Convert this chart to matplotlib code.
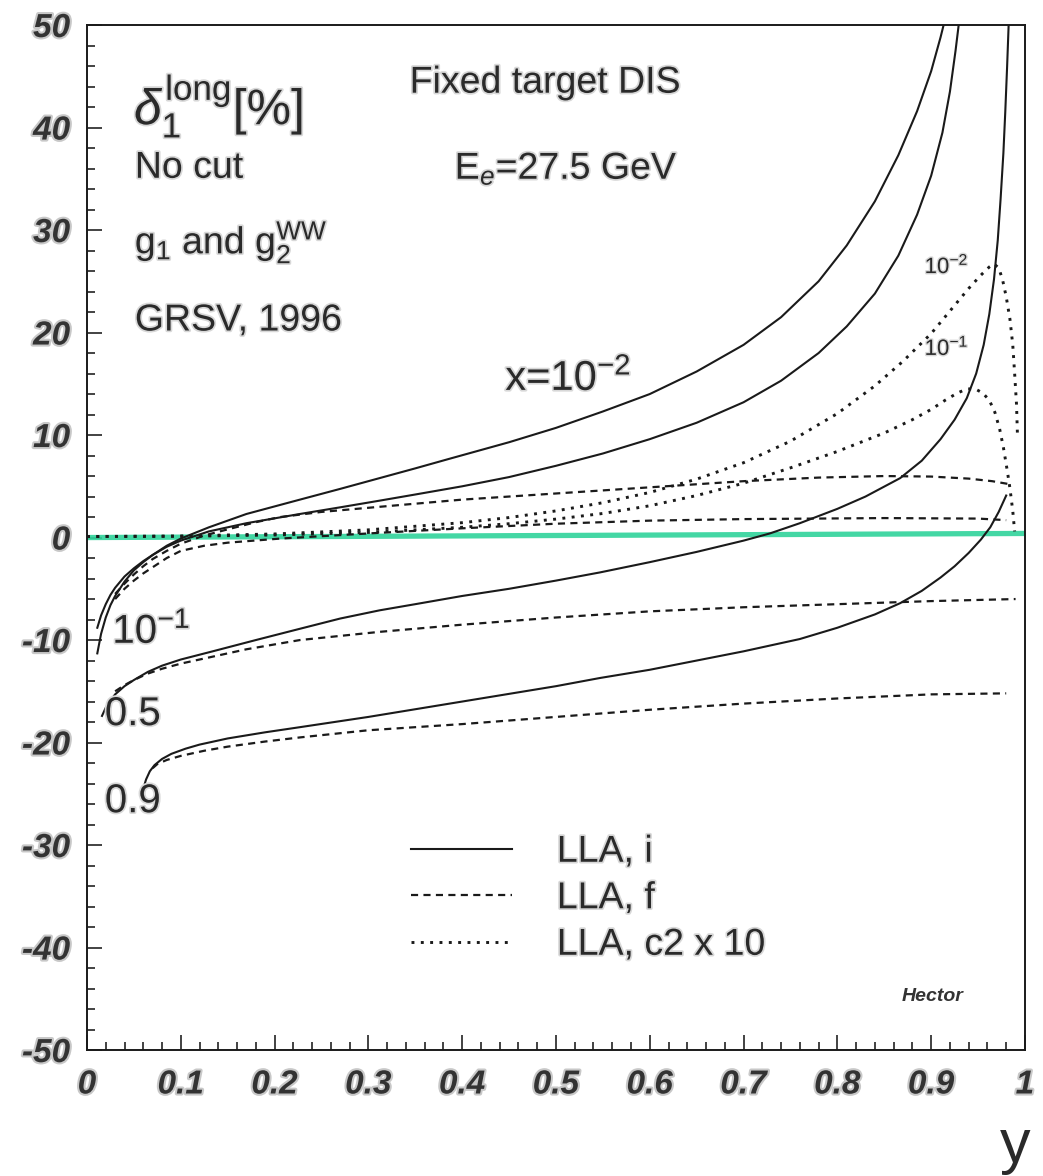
import matplotlib.pyplot as plt
import matplotlib.patheffects as pe
from matplotlib.ticker import MultipleLocator

# LLA, i  (solid) for x = 1e-2, 1e-1, 0.5, 0.9
i_m2_x = [0.011, 0.015, 0.02, 0.025, 0.03, 0.04, 0.05, 0.06, 0.07, 0.085, 0.1, 0.13, 0.17, 0.227, 0.27,
          0.312, 0.35, 0.387, 0.45, 0.5, 0.55, 0.6, 0.65, 0.7, 0.74, 0.78, 0.81, 0.84, 0.865, 0.885,
          0.9, 0.91, 0.916]
i_m2_y = [-11.3, -9.4, -7.8, -6.6, -5.7, -4.3, -3.2, -2.4, -1.7, -0.8, -0.1, 1.0, 2.3, 3.7, 4.75,
          5.8, 6.75, 7.7, 9.3, 10.7, 12.3, 14.0, 16.2, 18.8, 21.5, 25.0, 28.5, 32.8, 37.3, 41.6,
          45.5, 48.8, 51.0]
i_m1_x = [0.011, 0.015, 0.02, 0.025, 0.03, 0.04, 0.05, 0.06, 0.07, 0.085, 0.1, 0.13, 0.17, 0.227, 0.27,
          0.312, 0.35, 0.4, 0.45, 0.5, 0.55, 0.6, 0.65, 0.7, 0.74, 0.78, 0.81, 0.84, 0.865, 0.885,
          0.9, 0.912, 0.92, 0.926, 0.93]
i_m1_y = [-8.8, -7.6, -6.5, -5.6, -4.9, -3.8, -3.0, -2.3, -1.7, -0.9, -0.3, 0.6, 1.4, 2.3, 2.95,
          3.6, 4.2, 5.0, 5.9, 7.0, 8.2, 9.6, 11.2, 13.2, 15.3, 18.0, 20.6, 23.8, 27.5, 31.5,
          35.3, 39.5, 43.5, 47.5, 50.5]
i_05_x = [0.016, 0.02, 0.025, 0.03, 0.04, 0.05, 0.065, 0.08, 0.1, 0.134, 0.18, 0.227, 0.27, 0.312,
          0.35, 0.4, 0.45, 0.5, 0.547, 0.6, 0.65, 0.7, 0.728, 0.76, 0.8, 0.83, 0.867, 0.89, 0.91,
          0.925, 0.938, 0.948, 0.956, 0.962, 0.967, 0.971, 0.974, 0.977, 0.979, 0.981, 0.983]
i_05_y = [-17.4, -16.6, -15.9, -15.3, -14.5, -13.9, -13.1, -12.5, -11.9, -11.1, -10.0, -8.9, -7.9, -7.1,
          -6.5, -5.7, -5.0, -4.2, -3.4, -2.4, -1.4, -0.3, 0.4, 1.4, 2.8, 4.0, 5.8, 7.5, 9.6,
          11.5, 13.6, 16.0, 18.8, 21.8, 25.2, 29.0, 33.0, 37.5, 41.5, 46.0, 51.0]
i_09_x = [0.06, 0.063, 0.067, 0.072, 0.08, 0.09, 0.105, 0.12, 0.15, 0.19, 0.227, 0.3, 0.4, 0.5,
          0.547, 0.6, 0.65, 0.7, 0.76, 0.8, 0.84, 0.867, 0.89, 0.91, 0.925, 0.94, 0.953, 0.963,
          0.972, 0.98]
i_09_y = [-24.5, -23.6, -22.8, -22.2, -21.6, -21.1, -20.6, -20.2, -19.6, -19.0, -18.5, -17.5, -16.0, -14.5,
          -13.7, -12.9, -12.0, -11.1, -9.9, -8.8, -7.5, -6.4, -5.2, -3.9, -2.8, -1.5, -0.2, 1.0,
          2.5, 4.1]

# LLA, f  (dashed)
f_m2_x = [0.03, 0.04, 0.05, 0.06, 0.07, 0.085, 0.1, 0.125, 0.15, 0.18, 0.206, 0.25, 0.312, 0.4,
          0.5, 0.6, 0.7, 0.78, 0.85, 0.9, 0.94, 0.965, 0.984]
f_m2_y = [-5.5, -4.5, -3.6, -2.8, -2.1, -1.3, -0.6, 0.2, 0.8, 1.5, 2.0, 2.5, 3.0, 3.7,
          4.3, 4.9, 5.5, 5.85, 6.0, 5.95, 5.75, 5.5, 5.2]
f_m1_x = [0.03, 0.04, 0.05, 0.06, 0.07, 0.085, 0.1, 0.125, 0.15, 0.206, 0.3, 0.4, 0.5, 0.6,
          0.7, 0.85, 0.95, 0.98]
f_m1_y = [-6.0, -5.0, -4.2, -3.5, -2.9, -2.0, -1.3, -0.8, -0.5, -0.1, 0.4, 0.9, 1.35, 1.65,
          1.8, 1.9, 1.85, 1.7]
f_05_x = [0.03, 0.04, 0.05, 0.064, 0.08, 0.1, 0.13, 0.17, 0.227, 0.312, 0.4, 0.5, 0.6, 0.7,
          0.8, 0.9, 0.99]
f_05_y = [-15.0, -14.4, -13.9, -13.3, -12.8, -12.3, -11.7, -10.9, -10.0, -9.2, -8.5, -7.8, -7.2, -6.8,
          -6.5, -6.2, -6.0]
f_09_x = [0.07, 0.075, 0.085, 0.1, 0.125, 0.15, 0.19, 0.227, 0.3, 0.4, 0.5, 0.6, 0.7, 0.8,
          0.9, 0.98]
f_09_y = [-22.5, -22.1, -21.7, -21.3, -20.8, -20.4, -19.9, -19.5, -18.8, -18.2, -17.5, -16.8, -16.2, -15.7,
          -15.3, -15.2]

# LLA, c2 x 10  (dotted)
c_m2_x = [0.0, 0.1, 0.2, 0.3, 0.4, 0.45, 0.5, 0.55, 0.6, 0.65, 0.7, 0.75, 0.8, 0.84, 0.87,
          0.9, 0.92, 0.94, 0.953, 0.962, 0.967, 0.972, 0.976, 0.98, 0.984, 0.987, 0.989, 0.991, 0.992]
c_m2_y = [0.1, 0.15, 0.35, 0.75, 1.45, 1.95, 2.6, 3.4, 4.4, 5.7, 7.3, 9.4, 12.1, 14.8, 17.2,
          19.9, 22.1, 24.3, 25.6, 26.4, 26.7, 26.3, 25.2, 23.5, 21.3, 18.8, 16.0, 13.0, 10.0]
c_m1_x = [0.0, 0.1, 0.2, 0.3, 0.4, 0.45, 0.5, 0.55, 0.6, 0.65, 0.7, 0.75, 0.8, 0.85, 0.88,
          0.9, 0.915, 0.928, 0.938, 0.947, 0.955, 0.962, 0.968, 0.973, 0.977, 0.981, 0.984, 0.987, 0.989]
c_m1_y = [0.1, 0.12, 0.25, 0.5, 1.0, 1.35, 1.8, 2.35, 3.1, 4.1, 5.3, 6.8, 8.4, 10.2, 11.5,
          12.5, 13.4, 14.1, 14.5, 14.5, 14.1, 13.4, 12.2, 10.6, 8.8, 6.6, 4.8, 2.6, 0.6]

# hand-drawn green marker along zero
green_x = [0.0, 1.0]
green_y = [0.0, 0.4]

xtick_vals = [0, 0.1, 0.2, 0.3, 0.4, 0.5, 0.6, 0.7, 0.8, 0.9, 1]
xtick_labels = ['0', '0.1', '0.2', '0.3', '0.4', '0.5', '0.6', '0.7', '0.8', '0.9', '1']
ytick_vals = [-50, -40, -30, -20, -10, 0, 10, 20, 30, 40, 50]

solid = [(i_m2_x, i_m2_y), (i_m1_x, i_m1_y), (i_05_x, i_05_y), (i_09_x, i_09_y)]
dashed = [(f_m2_x, f_m2_y), (f_m1_x, f_m1_y), (f_05_x, f_05_y), (f_09_x, f_09_y)]
dotted = [(c_m2_x, c_m2_y), (c_m1_x, c_m1_y)]

plt.rcParams['font.family'] = ['Liberation Sans', 'DejaVu Sans']
plt.rcParams['mathtext.fontset'] = 'custom'
plt.rcParams['mathtext.rm'] = 'Liberation Sans'
plt.rcParams['mathtext.it'] = 'Liberation Sans:italic'
plt.rcParams['axes.unicode_minus'] = False

fig = plt.figure(figsize=(10.43, 11.76), dpi=100)
ax = fig.add_axes([0.0834, 0.1071, 0.8993, 0.8716])

ax.plot(green_x, green_y, color='#2fd39a', lw=3.8, alpha=0.9, solid_capstyle='butt')

ls_dash = (0, (3.2, 2.4))
ls_dot = (0, (1.0, 2.2))
for k, (xs, ys) in enumerate(solid):
    ax.plot(xs, ys, color='#1a1a1a', lw=1.5, label='LLA, i' if k == 0 else None)
for k, (xs, ys) in enumerate(dashed):
    ax.plot(xs, ys, color='#1a1a1a', lw=1.6, ls=ls_dash, label='LLA, f' if k == 0 else None)
for k, (xs, ys) in enumerate(dotted):
    ax.plot(xs, ys, color='#1a1a1a', lw=2.1, ls=ls_dot, label='LLA, c2 x 10' if k == 0 else None)

ax.set_xlim(0, 1)
ax.set_ylim(-50, 50)
ax.set_xticks(xtick_vals)
ax.set_xticklabels(xtick_labels)
ax.set_yticks(ytick_vals)
ax.xaxis.set_minor_locator(MultipleLocator(0.02))
ax.yaxis.set_minor_locator(MultipleLocator(2))
ax.tick_params(which='both', direction='in', top=False, right=False, width=1.2, colors='#222222')
ax.tick_params(which='major', length=11)
ax.tick_params(which='minor', length=5.5)
ax.tick_params(axis='x', pad=14)
ax.tick_params(axis='y', pad=12)
shadow = [pe.withStroke(linewidth=3, foreground='#c8c8c8')]
for lab in ax.get_xticklabels() + ax.get_yticklabels():
    lab.set_fontsize(24)
    lab.set_fontweight('bold')
    lab.set_fontstyle('italic')
    lab.set_color('#333333')
    lab.set_path_effects(shadow)
for sp in ax.spines.values():
    sp.set_linewidth(1.4)
    sp.set_color('#1a1a1a')

halo = [pe.withStroke(linewidth=2.5, foreground='#d8d8d8')]
txt = dict(fontsize=27, color='#2a2a2a', path_effects=halo)
ax.text(0.05, 40.3, r'$\delta_1^{\rm long}$[%]', fontsize=36, color='#2a2a2a', path_effects=halo)
ax.text(0.051, 35.1, 'No cut', **txt)
ax.text(0.051, 27.7, r'g$_1$ and g$_2^{\rm WW}$', **txt)
ax.text(0.051, 20.2, 'GRSV, 1996', **txt)
ax.text(0.344, 43.4, 'Fixed target DIS', **txt)
ax.text(0.392, 35.0, r'E$_e$=27.5 GeV', **txt)
ax.text(0.446, 14.4, r'x=10$^{-2}$', fontsize=30, color='#2a2a2a', path_effects=halo)
ax.text(0.027, -10.3, r'10$^{-1}$', fontsize=29, color='#2a2a2a', path_effects=halo)
ax.text(0.019, -18.3, '0.5', fontsize=29, color='#2a2a2a', path_effects=halo)
ax.text(0.019, -26.8, '0.9', fontsize=29, color='#2a2a2a', path_effects=halo)
small = dict(fontsize=16, color='#2a2a2a', path_effects=[pe.withStroke(linewidth=2, foreground='#d8d8d8')])
ax.text(0.893, 25.8, r'10$^{-2}$', **small)
ax.text(0.893, 17.8, r'10$^{-1}$', **small)
ax.text(0.902, -45.2, 'Hector', fontsize=14, fontweight='bold', fontstyle='italic', ha='center',
        color='#333333')

leg = ax.legend(loc='upper left', bbox_to_anchor=(0.345, 0.211), frameon=False, fontsize=27,
                handlelength=2.7, handletextpad=1.2, labelspacing=0.28, borderpad=0, borderaxespad=0)
for t in leg.get_texts():
    t.set_color('#2a2a2a')
    t.set_path_effects(halo)

fig.text(0.973, 0.012, 'y', fontsize=44, ha='center', va='baseline', color='#2a2a2a')

fig.savefig('out.png', dpi=100, facecolor='white')
